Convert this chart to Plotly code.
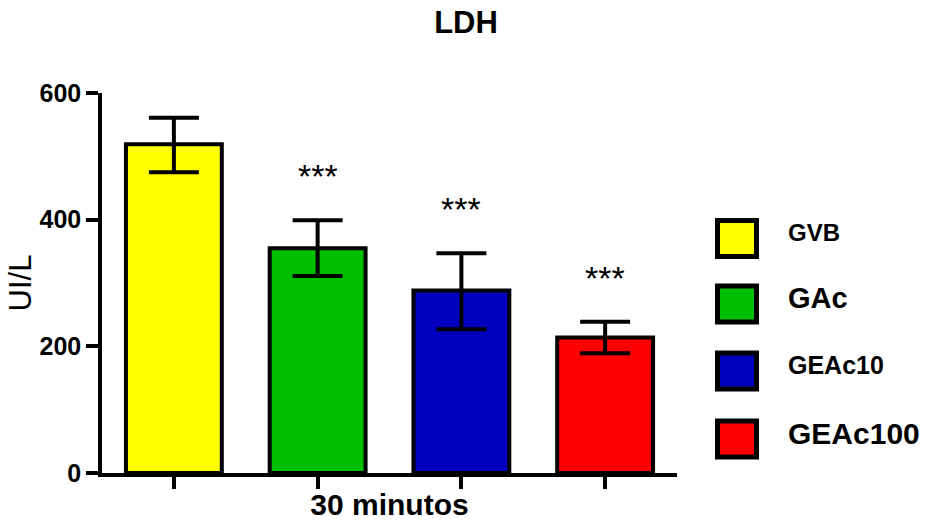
import plotly.graph_objects as go

# ---- data ----
groups = ["GVB", "GAc", "GEAc10", "GEAc100"]
means = [519, 355, 288, 214]
err_plus = [42, 44, 59, 25]
err_minus = [44, 44, 61, 25]
signif = ["", "***", "***", "***"]
colors = ["#FFFF00", "#00BE00", "#0000BE", "#FF0000"]
y_ticks = [0, 200, 400, 600]
x_label = "30 minutos"
y_label = "UI/L"
title = "LDH"

# ---- layout constants (pixels) ----
W, H = 925, 521
L, R, T, B = 102, 248, 93, 48
FONT = "Arial, Liberation Sans, sans-serif"

xs = list(range(len(groups)))

fig = go.Figure()
fig.add_trace(go.Bar(
    x=xs, y=means,
    width=0.667,
    marker=dict(color=colors, line=dict(color="black", width=4)),
    error_y=dict(type="data", array=err_plus, arrayminus=err_minus,
                 symmetric=False, color="black", thickness=4, width=25),
    showlegend=False,
))

# significance stars above error bars
for i, s in enumerate(signif):
    if s:
        fig.add_annotation(x=xs[i], y=means[i] + err_plus[i], xref="x", yref="y",
                           text=s, showarrow=False, yshift=44, yanchor="middle",
                           font=dict(family=FONT, size=34, color="black"))

# custom legend (large boxes)
plot_w = W - L - R
plot_h = H - T - B
def px_to_paper_x(px):
    return (px - L) / plot_w
def px_to_paper_y(py):
    return (H - B - py) / plot_h

label_sizes = [24, 29, 25, 30]
box_centers = [238.5, 304, 371, 439]
for i, g in enumerate(groups):
    cy = box_centers[i]
    fig.add_shape(type="rect", xref="paper", yref="paper",
                  x0=px_to_paper_x(717.5), x1=px_to_paper_x(756.5),
                  y0=px_to_paper_y(cy + 18), y1=px_to_paper_y(cy - 18),
                  fillcolor=colors[i], line=dict(color="black", width=5))
    fig.add_annotation(xref="paper", yref="paper",
                       x=px_to_paper_x(786), y=px_to_paper_y(cy - 6),
                       xanchor="left", yanchor="middle", showarrow=False,
                       text=g, font=dict(family=FONT, size=label_sizes[i],
                                         color="black", weight="bold"))

fig.update_layout(
    width=W, height=H,
    margin=dict(l=L, r=R, t=T, b=B, pad=0, autoexpand=False),
    paper_bgcolor="white", plot_bgcolor="white",
    title=dict(text=title, x=466 / W, xanchor="center", y=1 - 22 / H, yanchor="middle",
               font=dict(family=FONT, size=31, color="black", weight="bold")),
    bargap=0.333,
)
fig.update_xaxes(
    range=[-0.5, len(groups) - 0.5],
    tickvals=xs, ticktext=["" for _ in xs],
    ticks="outside", ticklen=12, tickwidth=3.5, tickcolor="black",
    showline=True, linecolor="black", linewidth=3.5,
    showgrid=False, zeroline=False,
    title=dict(text=x_label, standoff=8,
               font=dict(family=FONT, size=30, color="black", weight="bold")),
)
fig.update_yaxes(
    range=[0, 600], tickvals=y_ticks,
    ticks="outside", ticklen=12, tickwidth=3.5, tickcolor="black",
    showline=True, linecolor="black", linewidth=3.5,
    showgrid=False, zeroline=False,
    tickfont=dict(family=FONT, size=25, color="black", weight="bold"),
    title=dict(text=y_label, standoff=0,
               font=dict(family=FONT, size=31, color="black", weight="normal")),
)

fig.write_html("out.html", config={"displayModeBar": False},
               post_script="document.body.style.margin='0px';")
